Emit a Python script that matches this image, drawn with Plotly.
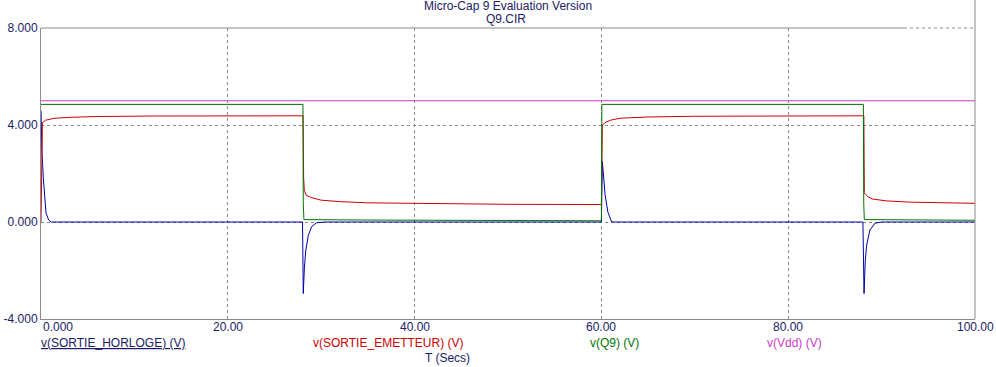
import plotly.graph_objects as go

# ---------------- data ----------------
t_horloge = [0, 0.1, 0.25, 0.4, 0.54, 0.82, 1.1, 28.0, 28.08, 28.2, 28.34, 28.62, 28.98, 29.5, 30.5,
             60.0, 60.1, 60.4, 60.7, 61.1, 88.0, 88.12, 88.25, 88.4, 88.75, 89.3, 90.0, 100.0]
v_horloge = [4.6, 2.9, 1.8, 0.84, 0.37, 0.08, 0.0, 0.0, -2.95, -1.9, -1.2, -0.55, -0.19, -0.03, 0.0,
             0.0, 2.5, 1.1, 0.4, 0.0, 0.0, -2.95, -1.6, -0.95, -0.33, -0.05, 0.0, 0.0]

t_emetteur = [0, 0.15, 0.5, 1.5, 3.3, 6, 12, 28.05, 28.12, 28.2, 28.4, 29.0, 30.0, 32, 35, 40, 50,
              60.0, 60.1, 60.5, 61, 62, 65, 70, 88.1, 88.15, 88.5, 89.0, 90.5, 93, 96, 100]
v_emetteur = [0.0, 4.1, 4.2, 4.28, 4.32, 4.35, 4.37, 4.38, 1.8, 1.3, 1.1, 1.0, 0.9, 0.84, 0.79, 0.76, 0.73,
              0.72, 4.0, 4.12, 4.2, 4.28, 4.33, 4.36, 4.38, 1.2, 1.05, 0.95, 0.87, 0.82, 0.79, 0.77]

t_q9 = [0, 28.05, 28.08, 28.15, 35, 60.0, 60.05, 88.05, 88.09, 88.15, 100]
v_q9 = [4.85, 4.85, 0.75, 0.1, 0.08, 0.05, 4.85, 4.85, 0.75, 0.1, 0.07]

t_vdd = [0, 100]
v_vdd = [5.0, 5.0]

x_ticks = [0, 20, 40, 60, 80, 100]
x_ticktext = ["0.000", "20.00", "40.00", "60.00", "80.00", "100.00"]
y_ticks = [-4, 0, 4, 8]
y_ticktext = ["-4.000", "0.000", "4.000", "8.000"]

series_names = ["v(SORTIE_HORLOGE) (V)", "v(SORTIE_EMETTEUR) (V)", "v(Q9) (V)", "v(Vdd) (V)"]
title_lines = ["Micro-Cap 9 Evaluation Version", "Q9.CIR"]
x_title = "T (Secs)"

# ---------------- style ----------------
W, H = 996, 367
L, R, T, B = 41, 975, 28, 319
FONT = "Liberation Sans, Arial, sans-serif"
NAVY = "#1a1a66"
GRID = "#8a8a8a"
c_blue, c_red, c_green, c_mag = "#0000a8", "#cc0000", "#007400", "#cc3acc"


def px(xp):
    return (xp - L) / (R - L)


def py(yp):
    return (B - yp) / (B - T)


fig = go.Figure()
for tx, vy, col, name in [(t_horloge, v_horloge, c_blue, series_names[0]),
                          (t_emetteur, v_emetteur, c_red, series_names[1]),
                          (t_q9, v_q9, c_green, series_names[2]),
                          (t_vdd, v_vdd, c_mag, series_names[3])]:
    fig.add_trace(go.Scatter(x=tx, y=vy, mode="lines", name=name,
                             line=dict(color=col, width=1), showlegend=False,
                             hoverinfo="skip"))

annotations = []
# x tick labels
for i, (xv, txt) in enumerate(zip(x_ticks, x_ticktext)):
    annotations.append(dict(x=xv, y=py(327.5), xref="x", yref="paper", text=txt,
                            showarrow=False, xanchor="left" if i == 0 else "center",
                            xshift=2 if i == 0 else 0,
                            yanchor="middle", font=dict(family=FONT, size=12, color=NAVY),
                            borderpad=0, borderwidth=0))
# title lines
annotations.append(dict(x=px(508), y=py(5.5), xref="paper", yref="paper", text=title_lines[0],
                        showarrow=False, xanchor="center", yanchor="middle",
                        font=dict(family=FONT, size=12, color=NAVY), borderpad=0, borderwidth=0))
annotations.append(dict(x=px(506), y=py(19), xref="paper", yref="paper", text=title_lines[1],
                        showarrow=False, xanchor="center", yanchor="middle",
                        font=dict(family=FONT, size=12, color=NAVY), borderpad=0, borderwidth=0))
# series labels
lab_pos = [(41, "<u>%s</u>" % series_names[0], NAVY),
           (313, series_names[1], c_red),
           (590, series_names[2], c_green),
           (767, series_names[3], c_mag)]
for xp, txt, col in lab_pos:
    annotations.append(dict(x=px(xp), y=py(343), xref="paper", yref="paper", text=txt,
                            showarrow=False, xanchor="left", yanchor="middle",
                            font=dict(family=FONT, size=12, color=col), borderpad=0, borderwidth=0))
annotations.append(dict(x=px(425), y=py(358), xref="paper", yref="paper", text=x_title,
                        showarrow=False, xanchor="left", yanchor="middle",
                        font=dict(family=FONT, size=12, color=NAVY), borderpad=0, borderwidth=0))

shapes = [
    dict(type="line", xref="paper", yref="paper", x0=0, x1=px(904), y0=1, y1=1,
         line=dict(color=GRID, width=1)),
    dict(type="line", xref="paper", yref="paper", x0=px(904), x1=1, y0=1, y1=1,
         line=dict(color=GRID, width=1, dash="3px,3px")),
    dict(type="line", xref="paper", yref="paper", x0=1, x1=1, y0=0, y1=py(0),
         line=dict(color=GRID, width=1)),
]

fig.update_layout(
    width=W, height=H,
    margin=dict(l=L, r=W - R, t=T, b=H - B, pad=0, autoexpand=False),
    paper_bgcolor="white", plot_bgcolor="white",
    font=dict(family=FONT, size=12, color=NAVY),
    xaxis=dict(range=[0, 100], tickvals=x_ticks, showticklabels=False, ticks="",
               showgrid=True, gridcolor=GRID, gridwidth=1, griddash="3px,3px",
               zeroline=False, showline=True, linecolor=GRID, linewidth=1, automargin=False),
    yaxis=dict(range=[-4, 8], tickvals=y_ticks, ticktext=y_ticktext, ticks="",
               tickfont=dict(family=FONT, size=12, color=NAVY),
               showgrid=True, gridcolor=GRID, gridwidth=1, griddash="3px,3px",
               zeroline=False, showline=True, linecolor=GRID, linewidth=1, automargin=False),
    annotations=annotations,
    shapes=shapes,
    showlegend=False,
)

fig.write_html("out.html")
